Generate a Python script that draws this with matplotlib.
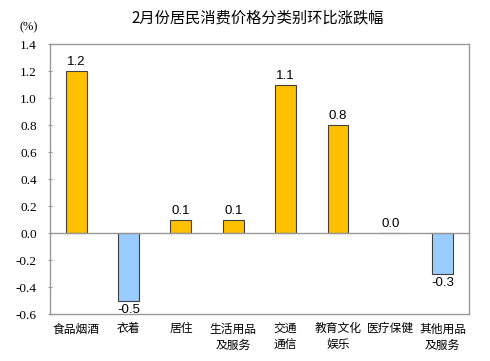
import matplotlib.pyplot as plt
import numpy as np

# 数据
categories = ['食品烟酒', '衣着', '居住', '生活用品\n及服务', '交通\n通信', '教育文化\n娱乐', '医疗保健', '其他用品\n及服务']
values = [1.2, -0.5, 0.1, 0.1, 1.1, 0.8, 0.0, -0.3]
yticks = [-0.6, -0.4, -0.2, 0.0, 0.2, 0.4, 0.6, 0.8, 1.0, 1.2, 1.4]

cjk = ['Noto Sans CJK SC', 'DejaVu Sans']

fig = plt.figure(figsize=(4.9, 3.61), dpi=100)
ax = fig.add_axes([0.102, 0.130, 0.855, 0.748])

x = np.arange(len(categories))
colors = ['#FFC000' if v >= 0 else '#99CCFF' for v in values]
ax.bar(x, values, width=0.4, color=colors, edgecolor='#404040', linewidth=0.8, zorder=3)

# 柱子上标数值
for i, v in enumerate(values):
    if v >= 0:
        ax.text(x[i], v + 0.02, f'{v:.1f}', ha='center', va='bottom',
                fontsize=9.5, family='Liberation Sans')
    else:
        ax.text(x[i], v - 0.025, f'{v:.1f}', ha='center', va='top',
                fontsize=9.5, family='Liberation Sans')

ax.axhline(0, color='#999999', linewidth=1, zorder=4)
ax.set_xlim(-0.5, len(categories) - 0.5)
ax.set_ylim(-0.6, 1.4)
ax.set_yticks(yticks)
ax.set_yticklabels([f'{t:.1f}' for t in yticks], family='Liberation Serif', fontsize=9.5)
ax.set_xticks(x)
ax.set_xticklabels(categories, family=cjk, fontsize=8.5, linespacing=1.3, va='top')
ax.tick_params(axis='x', length=0, pad=6)
ax.tick_params(axis='y', length=3, direction='inout', color='#999999', pad=8)
for s in ax.spines.values():
    s.set_color('#999999')
    s.set_linewidth(1)

fig.text(0.525, 0.95, '2月份居民消费价格分类别环比涨跌幅', ha='center', va='center',
         fontsize=11, family=cjk)
fig.text(0.058, 0.925, '(%)', ha='center', va='center', fontsize=9, family='Liberation Serif')

fig.savefig('out.png', dpi=100)
